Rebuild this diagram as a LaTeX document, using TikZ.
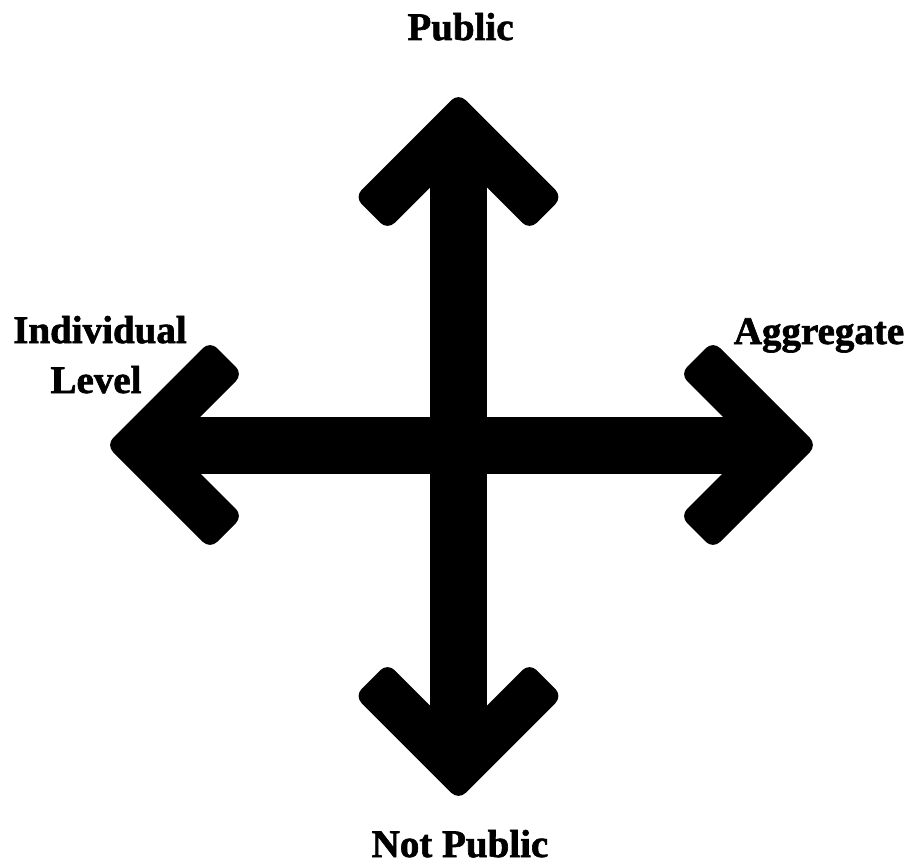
\documentclass[tikz,border=0pt]{standalone}
\usepackage{fontspec}
\newfontfamily\lblfont{Liberation Serif}[BoldFeatures={FakeBold=1.6}]
\tikzset{
  lbl/.style={inner sep=0pt, anchor=base, font=\lblfont\bfseries\fontsize{39}{44}\selectfont},
  headfill/.style={fill=black, rounded corners=10pt},
  shaftfill/.style={fill=black},
}
\newcommand\dblarrowshape[1]{%
  \fill[shaftfill] (60,-28.5) rectangle (#1-60,28.5);
  \fill[headfill] (0,0) -- (104,104) -- (137,71) -- (66,0) -- (137,-71) -- (104,-104) -- cycle;
  \fill[headfill] (#1,0) -- (#1-104,104) -- (#1-137,71) -- (#1-66,0) -- (#1-137,-71) -- (#1-104,-104) -- cycle;
}
\begin{document}
\begin{tikzpicture}[x=1pt,y=-1pt]
\useasboundingbox[fill=white] (0,0) rectangle (910,867);
% vertical double arrow
\begin{scope}[shift={(458.5,93)}, rotate=-90]
  \dblarrowshape{707}
\end{scope}
% horizontal double arrow
\begin{scope}[shift={(106,445)}]
  \dblarrowshape{711}
\end{scope}
% labels
\node[lbl] (pub) at (460.5,40) {Public};
\node[lbl, text depth=0pt] (notpub) at (460,857) {Not Public};
\node[lbl] (agg) at (819,344) {Aggregate};
\node[lbl] (ind) at (100,343) {Individual};
\node[lbl] (lev) at (96,393) {Level};
\end{tikzpicture}
\end{document}
